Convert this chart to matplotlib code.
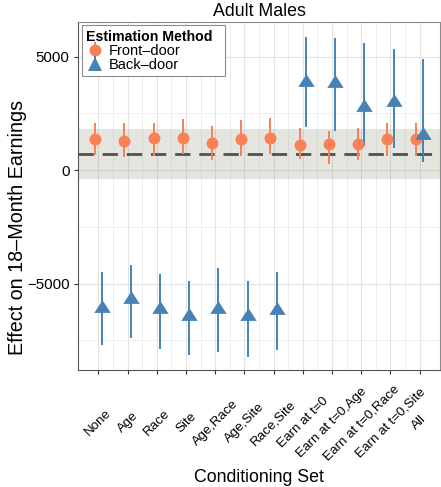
import numpy as np
import matplotlib.pyplot as plt
from matplotlib.path import Path

plt.rcParams['font.family'] = ['Liberation Sans', 'DejaVu Sans']

# conditioning sets
sets = ['None', 'Age', 'Race', 'Site', 'Age,Race', 'Age,Site', 'Race,Site',
        'Earn at t=0', 'Earn at t=0,Age', 'Earn at t=0,Race', 'Earn at t=0,Site', 'All']

# front-door estimates and 95% intervals
front_est = [1380, 1280, 1430, 1430, 1190, 1350, 1430, 1090, 1130, 1130, 1350, 1350]
front_lo = [640, 570, 630, 690, 420, 600, 690, 500, 280, 450, 600, 600]
front_hi = [2090, 2050, 2090, 2240, 1940, 2190, 2270, 1830, 1720, 1830, 2080, 2090]

# back-door estimates and 95% intervals
back_est = [-6000, -5580, -6030, -6350, -6030, -6360, -6070, 3950, 3900, 2870, 3070, 1630]
back_lo = [-7690, -7400, -7870, -8160, -8020, -8220, -7940, 1900, 1710, 1060, 970, 350]
back_hi = [-4480, -4200, -4570, -4890, -4330, -4890, -4490, 5860, 5820, 5590, 5340, 4890]

# experimental benchmark and its interval
bench = 690
bench_lo = -390
bench_hi = 1800

orange = '#FA8155'
blue = '#4682B4'

fig = plt.figure(figsize=(4.41, 4.87), dpi=100)
ax = fig.add_axes([78/441, 1 - 370/487, 362/441, 348/487])

x = np.arange(1, len(sets) + 1)
dodge = 0.11

# grid
ax.set_xticks(x)
ax.set_xticks(x[:-1] + 0.5, minor=True)
ax.set_yticks([-5000, 0, 5000])
ax.set_yticks([-7500, -2500, 2500], minor=True)
ax.grid(True, which='major', color='#e3e3e3', lw=0.8)
ax.grid(True, which='minor', color='#ececec', lw=0.6)
ax.set_axisbelow(True)

# benchmark band + dashed line
ax.axhspan(bench_lo, bench_hi, color='#9a9a80', alpha=0.25, lw=0, zorder=1)
ax.axhline(bench, color='#505050', lw=2.0, dashes=(5.5, 3.2), zorder=2)

tri = Path([(-1, -0.78), (1, -0.78), (0, 0.78), (-1, -0.78)],
           [Path.MOVETO, Path.LINETO, Path.LINETO, Path.CLOSEPOLY])

fe = np.array(front_est)
be = np.array(back_est)
h1 = ax.errorbar(x - dodge, fe, yerr=[fe - np.array(front_lo), np.array(front_hi) - fe],
                 fmt='o', color=orange, ms=8.6, elinewidth=1.4, capsize=0,
                 mew=0, zorder=3)
ax.errorbar(x + dodge, be, yerr=[be - np.array(back_lo), np.array(back_hi) - be],
            fmt='none', color=blue, elinewidth=1.4, capsize=0, zorder=3)
ax.plot(x + dodge, be, ls='none', marker=tri, ms=11.8, color=blue, mew=0, zorder=4)
h2 = ax.errorbar([], [], yerr=[[], []], fmt='^', color=blue, ms=10, elinewidth=1.4,
                 capsize=0, mew=0)

ax.set_xlim(0.3, 12.7)
ax.set_ylim(-8810, 6520)

ax.set_xticklabels(sets, rotation=45, ha='center', va='center',
                   rotation_mode='anchor', fontsize=9.6)
ax.tick_params(axis='x', which='major', length=3, width=0.8, color='#333333', pad=35)
ax.tick_params(axis='y', which='major', length=3, width=0.8, color='#333333',
               labelsize=10.8, pad=3)
ax.tick_params(which='minor', length=0)
ax.set_yticklabels(['\u22125000', '0', '5000'])

for s in ax.spines.values():
    s.set_color('#8c8c8c')
    s.set_linewidth(0.8)
ax.spines['left'].set_color('#555555')
ax.spines['bottom'].set_color('#555555')

ax.set_title('Adult Males', fontsize=12.8, pad=4)
ax.set_xlabel('Conditioning Set', fontsize=12.8)
ax.xaxis.set_label_coords(0.5, -0.31)
ax.xaxis.label.set_va('center')
ax.set_ylabel('Effect on 18\u2013Month Earnings', fontsize=14.2)
ax.yaxis.set_label_coords(-0.168, 0.41)
ax.yaxis.label.set_va('center')

leg = ax.legend([h1, h2], ['Front\u2013door', 'Back\u2013door'],
                title='Estimation Method  ',
                loc='upper left', bbox_to_anchor=(0.01, 0.99), fontsize=10.5,
                title_fontproperties={'weight': 'bold', 'size': 10.2},
                frameon=True, fancybox=False, edgecolor='#8c8c8c', framealpha=1,
                handlelength=1.3, handletextpad=0.25, borderpad=0.3,
                labelspacing=0.0, borderaxespad=0)
leg._legend_box.align = 'left'
leg.get_frame().set_linewidth(0.8)

fig.savefig('out.png', dpi=100)
